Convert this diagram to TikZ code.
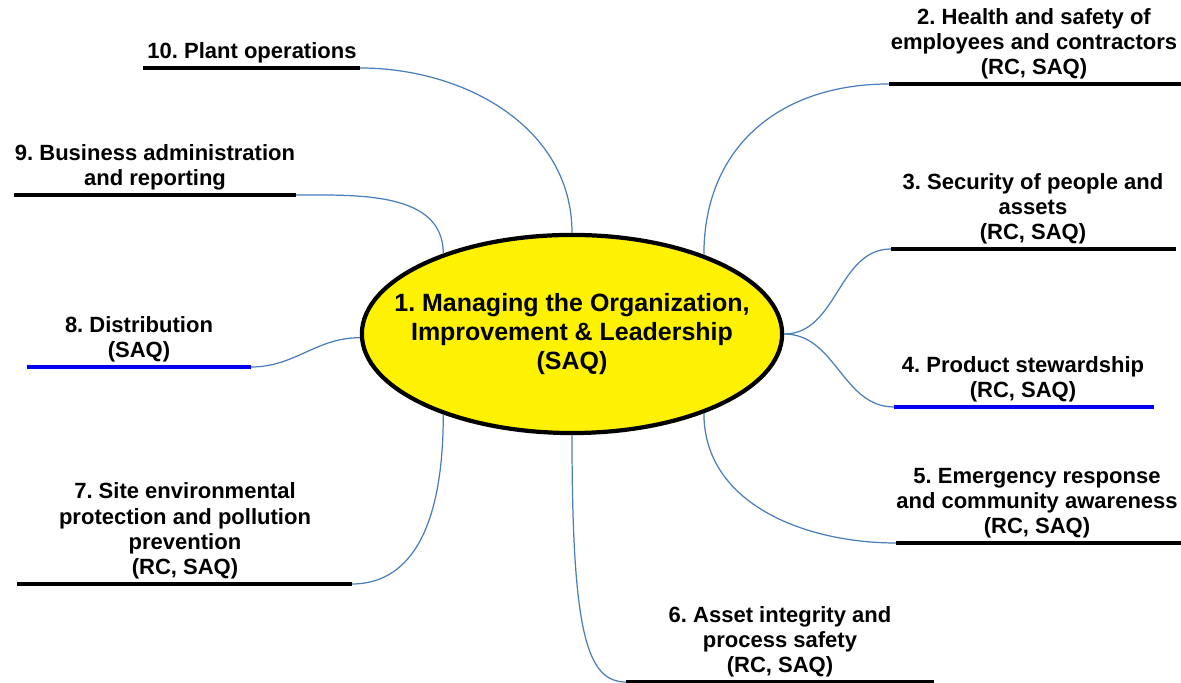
\documentclass[tikz,border=0pt]{standalone}
\usepackage{fontspec}
\setmainfont{Liberation Sans}
\frenchspacing
\definecolor{linkblue}{HTML}{4A7EBB}
\definecolor{keyblue}{HTML}{0000F0}
\tikzset{
  topic/.style={ellipse, draw, line width=1.2pt, fill=yellow,
    inner xsep=-0.3cm, inner ysep=0pt,
    minimum width=4.2cm, minimum height=1.98cm, align=center,
    font=\fontsize{7.1}{8.15}\selectfont\bfseries},
  branch/.style={anchor=south, inner sep=0pt, align=center,
    font=\fontsize{6.26}{7.2}\selectfont\bfseries},
  uline/.style={line width=1.15pt},
  link/.style={draw=linkblue, line width=0.35pt},
}
\usetikzlibrary{shapes.geometric}
\begin{document}
\begin{tikzpicture}[x=0.01cm, y=-0.01cm]
  \useasboundingbox (0, 0) rectangle (1181, 683);

  % Central topic
  \node[topic] (core) at (572, 334)
    {1. Managing the Organization,\\Improvement \& Leadership\\(SAQ)};

  % Underlines of the branches
  \coordinate (u2a) at (889, 84);  \coordinate (u2b) at (1181, 84);
  \coordinate (u3a) at (891, 249); \coordinate (u3b) at (1176, 249);
  \coordinate (u4a) at (894, 407); \coordinate (u4b) at (1154, 407);
  \coordinate (u5a) at (896, 543); \coordinate (u5b) at (1181, 543);
  \coordinate (u6a) at (626, 682); \coordinate (u6b) at (934, 682);
  \coordinate (u7a) at (17, 584);  \coordinate (u7b) at (352, 584);
  \coordinate (u8a) at (27, 367);  \coordinate (u8b) at (251, 367);
  \coordinate (u9a) at (14, 195);  \coordinate (u9b) at (296, 195);
  \coordinate (u10a) at (143, 68); \coordinate (u10b) at (360, 68);

  \draw[uline] (u2a) -- (u2b);
  \draw[uline] (u3a) -- (u3b);
  \draw[uline, keyblue] (u4a) -- (u4b);
  \draw[uline] (u5a) -- (u5b);
  \draw[uline] (u6a) -- (u6b);
  \draw[uline] (u7a) -- (u7b);
  \draw[uline, keyblue] (u8a) -- (u8b);
  \draw[uline] (u9a) -- (u9b);
  \draw[uline] (u10a) -- (u10b);

  % Branch texts
  \node[branch] (b2) at (1034, 80)
    {2. Health and safety of\\employees and contractors\\(RC, SAQ)};
  \node[branch] (b3) at (1033, 245)
    {3. Security of people and\\assets\\(RC, SAQ)};
  \node[branch] (b4) at (1023, 403) {4. Product stewardship\\(RC, SAQ)};
  \node[branch] (b5) at (1037, 539)
    {5. Emergency response\\and community awareness\\(RC, SAQ)};
  \node[branch] (b6) at (780, 678)
    {6. Asset integrity and\\process safety\\(RC, SAQ)};
  \node[branch] (b7) at (185, 580)
    {7. Site environmental\\protection and pollution\\prevention\\(RC, SAQ)};
  \node[branch] (b8) at (139, 363) {8. Distribution\\(SAQ)};
  \node[branch] (b9) at (155, 191) {9. Business administration\\and reporting};
  \node[branch] (b10) at (252, 64) {10. Plant operations};

  % Links
  \draw[link] (core.31) to[out=90, in=180, looseness=1.1] (u2a);
  \draw[link] (core.0) to[out=0, in=180] (u3a);
  \draw[link] (core.0) to[out=0, in=180] (u4a);
  \draw[link] (core.-31) to[out=-90, in=180] (u5a);
  \draw[link] (core.-90) to[out=-90, in=180, out looseness=2, in looseness=0.4] (u6a);
  \draw[link] (core.212) to[out=-90, in=0, out looseness=1.8, in looseness=0.6] (u7b);
  \draw[link] (core.181) to[out=180, in=0] (u8b);
  \draw[link] (core.148) to[out=90, in=0] (u9b);
  \draw[link] (core.90) to[out=90, in=0] (u10b);
\end{tikzpicture}
\end{document}
